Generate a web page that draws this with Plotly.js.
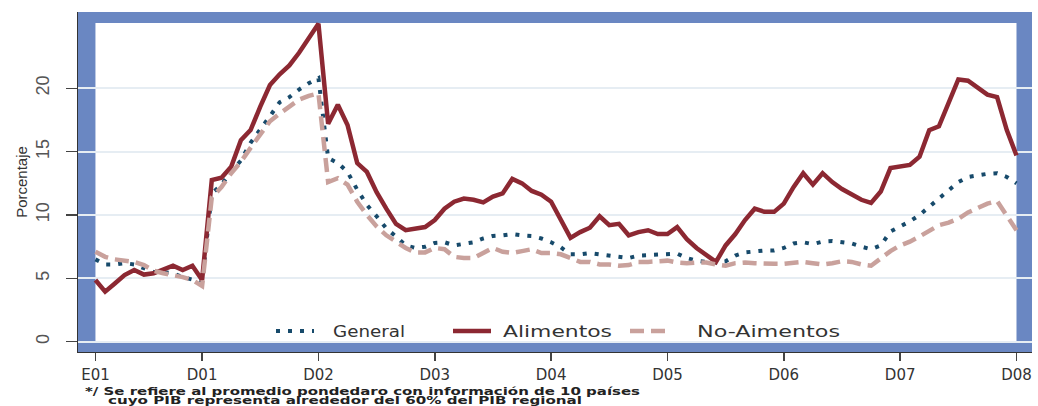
<!DOCTYPE html>
<html>
<head>
<meta charset="utf-8">
<script src="https://cdn.plot.ly/plotly-3.0.1.min.js"></script>
<style>html,body{margin:0;padding:0;background:#fff;}#chart{width:1038px;height:406px;}</style>
</head>
<body>
<div id="chart"></div>
<script>
// Months E01 (Jan 2001) .. D08 (Dec 2008)
const tickPositions = [0, 11, 23, 35, 47, 59, 71, 83, 95];
const tickLabels = ['E01', 'D01', 'D02', 'D03', 'D04', 'D05', 'D06', 'D07', 'D08'];
const yTicks = [0, 5, 10, 15, 20];

const general = [
  6.5, 6.1, 6.1, 6.2, 6.1, 5.8, 5.5, 5.5, 5.4, 5.1, 4.9, 4.7,
  11.7, 12.4, 13.4, 14.3, 15.7, 16.7, 17.8, 18.9, 19.3, 19.9, 20.4, 20.8,
  14.5, 14.1, 13.4, 12.0, 10.8, 9.9, 8.95, 8.3, 7.6, 7.4, 7.5, 7.8,
  7.85, 7.6, 7.7, 7.85, 8.15, 8.35, 8.4, 8.5, 8.4, 8.35, 8.15, 7.85,
  7.45, 6.9, 6.9, 7.0, 6.9, 6.8, 6.7, 6.6, 6.8, 6.85, 6.9, 6.9,
  6.95, 6.6, 6.4, 6.3, 6.25, 6.35, 6.8, 7.05, 7.15, 7.2, 7.2, 7.4,
  7.75, 7.85, 7.7, 7.9, 7.95, 7.85, 7.75, 7.5, 7.3, 7.6, 8.7, 9.1,
  9.5, 10.0, 10.65, 11.4, 12.05, 12.6, 13.0, 13.15, 13.25, 13.3, 13.0, 12.5
];
const alimentos = [
  4.87, 3.95, 4.6, 5.26, 5.66, 5.3, 5.4, 5.66, 6.0, 5.66, 6.0, 4.87,
  12.76, 12.95, 13.8, 15.9, 16.7, 18.55, 20.26, 21.1, 21.8, 22.8, 23.9, 25.1,
  17.2, 18.7, 17.1, 14.1, 13.4, 11.8, 10.5, 9.3, 8.8, 8.9, 9.05, 9.6,
  10.5, 11.05, 11.3, 11.2, 11.0, 11.45, 11.7, 12.85, 12.5, 11.9, 11.6, 11.05,
  9.6, 8.2, 8.65, 9.0, 9.9, 9.2, 9.3, 8.4, 8.65, 8.8, 8.5, 8.5,
  9.05, 8.1, 7.4, 6.85, 6.3, 7.6, 8.5, 9.6, 10.5, 10.25, 10.25, 10.9,
  12.2, 13.3, 12.4, 13.3, 12.6, 12.05, 11.6, 11.2, 10.95, 11.85, 13.7, 13.8,
  13.95, 14.6, 16.7, 17.0, 18.95, 20.7, 20.6, 20.1, 19.5, 19.3, 16.7, 14.7
];
const noAlimentos = [
  7.1, 6.7, 6.5, 6.4, 6.3, 6.05, 5.6, 5.4, 5.26, 5.1, 4.87, 4.4,
  11.4, 12.2, 13.3, 14.2, 15.3, 16.4, 17.4, 18.0, 18.55, 19.1, 19.4, 19.6,
  12.6, 12.9, 12.4, 11.05, 10.0, 9.1, 8.4, 7.9, 7.4, 7.05, 7.05, 7.4,
  7.3, 6.7, 6.6, 6.6, 7.05, 7.4, 7.1, 7.0, 7.15, 7.3, 7.0, 7.0,
  6.9, 6.6, 6.3, 6.3, 6.1, 6.1, 6.0, 6.05, 6.3, 6.3, 6.35, 6.4,
  6.25, 6.2, 6.25, 6.25, 6.1, 6.0, 6.2, 6.25, 6.2, 6.15, 6.15, 6.15,
  6.2, 6.3, 6.2, 6.1, 6.2, 6.35, 6.3, 6.1, 6.0, 6.6, 7.15, 7.6,
  7.9, 8.3, 8.8, 9.2, 9.4, 9.7, 10.2, 10.6, 10.9, 11.1, 10.0, 8.8
];
const seriesNames = ['General', 'Alimentos', 'No-Aimentos'];
const footnoteLines = [
  '*/ Se refiere al promedio pondedaro con información de 10 países',
  'cuyo PIB representa alrededor del 60% del PIB regional'
];

const months = general.map((_, i) => i);

const traces = [
  {x: months, y: general, name: seriesNames[0], type: 'scatter', mode: 'lines',
   line: {color: '#174a6b', width: 4, dash: '4px,8px'}},
  {x: months, y: alimentos, name: seriesNames[1], type: 'scatter', mode: 'lines',
   line: {color: '#8c2832', width: 4.5}},
  {x: months, y: noAlimentos, name: seriesNames[2], type: 'scatter', mode: 'lines',
   line: {color: '#c9a19c', width: 4.5, dash: '14px,7px'}}
];

const L = 78, R = 6, T = 12, B = 54, W = 1038, H = 406;
const pw = W - L - R, ph = H - T - B;
const px2x = p => (p - L) / pw;
const py2y = p => (H - B - p) / ph;

const layout = {
  width: W, height: H,
  margin: {l: L, r: R, t: T, b: B, pad: 0},
  paper_bgcolor: '#ffffff',
  plot_bgcolor: '#6a87c2',
  showlegend: true,
  xaxis: {
    range: [-1.8, 96.6], tickmode: 'array', tickvals: tickPositions, ticktext: tickLabels,
    ticks: 'outside', ticklen: 8, tickwidth: 1.5, tickcolor: '#444',
    showline: true, linecolor: '#333', linewidth: 1,
    showgrid: false, zeroline: false, ticklabelstandoff: 1,
    tickfont: {family: 'DejaVu Sans, sans-serif', size: 15, color: '#333'},
    fixedrange: true
  },
  yaxis: {
    range: [-0.81, 26.02], tickmode: 'array', tickvals: yTicks,
    ticks: 'outside', ticklen: 11, tickwidth: 1.5, tickcolor: '#444', tickangle: -90,
    showline: true, linecolor: '#333', linewidth: 1,
    showgrid: true, gridcolor: '#e6edf3', gridwidth: 2, zeroline: false,
    ticklabelstandoff: 10,
    tickfont: {family: 'Liberation Sans Narrow, Liberation Sans, sans-serif', size: 18, color: '#555'},
    title: {text: 'Porcentaje', standoff: 1,
            font: {family: 'Liberation Sans Narrow, Liberation Sans, sans-serif', size: 15, color: '#333'}},
    fixedrange: true
  },
  shapes: [
    {type: 'rect', xref: 'x', yref: 'y', x0: 0, x1: 95, y0: 0, y1: 25.15,
     fillcolor: '#ffffff', line: {width: 0}, layer: 'below'}
  ],
  legend: {
    orientation: 'h', x: px2x(271), y: py2y(331), xanchor: 'left', yanchor: 'middle',
    bgcolor: 'rgba(0,0,0,0)', entrywidth: 124, entrywidthmode: 'pixels',
    itemwidth: 38,
    font: {family: 'DejaVu Sans, sans-serif', size: 16, color: '#333'}
  },
  annotations: [
    {xref: 'paper', yref: 'paper', x: px2x(85), y: py2y(391), xanchor: 'left', yanchor: 'middle',
     showarrow: false, text: footnoteLines[0],
     font: {family: 'DejaVu Sans, sans-serif', size: 10, weight: 'bold', color: '#222'}},
    {xref: 'paper', yref: 'paper', x: px2x(108), y: py2y(400), xanchor: 'left', yanchor: 'middle',
     showarrow: false, text: footnoteLines[1],
     font: {family: 'DejaVu Sans, sans-serif', size: 10, weight: 'bold', color: '#222'}}
  ]
};

// Widen a text element horizontally (the reference's lettering is wide) and put its left edge at a pixel x.
function widen(el, left, width) {
  el.setAttribute('textLength', width);
  el.setAttribute('lengthAdjust', 'spacingAndGlyphs');
  const r = el.getBoundingClientRect();
  const dx = left - r.left;
  const t = el.getAttribute('transform') || '';
  el.setAttribute('transform', 'translate(' + dx + ',0) ' + t);
}

Plotly.newPlot('chart', traces, layout, {displayModeBar: false, staticPlot: true}).then(gd => {
  try {
    gd.querySelectorAll('.legend [clip-path]').forEach(e => e.removeAttribute('clip-path'));
    const ann = gd.querySelectorAll('.annotation-text');
    if (ann[0]) widen(ann[0], 85, 555);
    if (ann[1]) widen(ann[1], 108, 474);
    const leg = gd.querySelectorAll('.legendtext');
    const legPos = [[333, 72], [503, 109], [697, 143]];
    leg.forEach((el, i) => { if (legPos[i]) widen(el, legPos[i][0], legPos[i][1]); });
  } catch (e) { console.error(e); }
});
</script>
</body>
</html>
